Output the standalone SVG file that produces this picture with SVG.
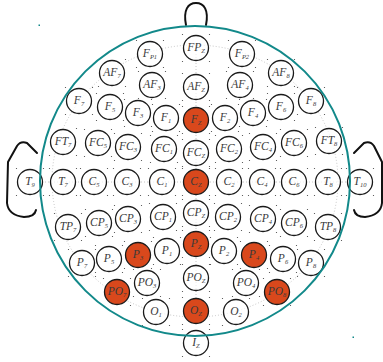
<svg xmlns="http://www.w3.org/2000/svg" xmlns:xlink="http://www.w3.org/1999/xlink" width="383" height="362" viewBox="0 0 383 362">
<style>
.e circle{fill:#fff;fill-opacity:0.7;stroke:#1a1a1a;stroke-width:1.3}
.e.on circle{fill:#D9481C;fill-opacity:1}
text{font-family:"Liberation Serif","Times New Roman",serif;font-style:italic;font-size:11.5px;fill:#3a3a3a;text-anchor:middle}
.s{font-size:6.5px}
.guide{fill:none;stroke:#b8b8b8;stroke-width:0.8;stroke-dasharray:1 2}
.outline{fill:none;stroke:#111;stroke-width:2;stroke-linejoin:round;stroke-linecap:round}
.gd{fill:#444}
</style>
<defs>
<g id="g"><circle class="gd" cx="-13.5" cy="-13.5" r="0.6"/><circle class="gd" cx="13.5" cy="-13.5" r="0.6"/><circle class="gd" cx="-13.5" cy="13.5" r="0.6"/><circle class="gd" cx="13.5" cy="13.5" r="0.6"/></g>
</defs>
<rect width="383" height="362" fill="#fff"/>
<g id="head-outline">
<path class="outline" d="M186,25 C183,10 188,3 196,3 C204,3 209,10 206,25"/>
<path class="outline" d="M37,153 L27,143 C22,141 19,143 17,146 L8,162 L7,203 C8,212 14,216 24,217 C30,217 35,215 36,210"/>
<path class="outline" d="M354,153 L364,143 C369,141 372,143 374,146 L382,162 L382,203 C381,212 375,216 365,217 C359,217 355,215 354,210"/>
</g>
<g id="connectors">
<ellipse class="guide" cx="195" cy="181" rx="143" ry="136"/>
<line class="guide" x1="42" y1="182" x2="348" y2="182"/>
<line class="guide" x1="196" y1="45" x2="196" y2="318"/>
</g>
<g id="grid-dots">
<use xlink:href="#g" x="150" y="54"/><use xlink:href="#g" x="196" y="48"/><use xlink:href="#g" x="242" y="54"/>
<use xlink:href="#g" x="112" y="73"/><use xlink:href="#g" x="152" y="85"/><use xlink:href="#g" x="196" y="87"/><use xlink:href="#g" x="240" y="85"/><use xlink:href="#g" x="281" y="73"/>
<use xlink:href="#g" x="79" y="101"/><use xlink:href="#g" x="110" y="107"/><use xlink:href="#g" x="138" y="113"/><use xlink:href="#g" x="166" y="118"/><use xlink:href="#g" x="196" y="120"/><use xlink:href="#g" x="225" y="118"/><use xlink:href="#g" x="253" y="113"/><use xlink:href="#g" x="281" y="107"/><use xlink:href="#g" x="311" y="101"/>
<use xlink:href="#g" x="63" y="142"/><use xlink:href="#g" x="98" y="143"/><use xlink:href="#g" x="128" y="147"/><use xlink:href="#g" x="164" y="149"/><use xlink:href="#g" x="196" y="153"/><use xlink:href="#g" x="229" y="149"/><use xlink:href="#g" x="263" y="147"/><use xlink:href="#g" x="294" y="143"/><use xlink:href="#g" x="329" y="141"/>
<use xlink:href="#g" x="30" y="182"/><use xlink:href="#g" x="63" y="182"/><use xlink:href="#g" x="94" y="182"/><use xlink:href="#g" x="127" y="182"/><use xlink:href="#g" x="162" y="182"/><use xlink:href="#g" x="196" y="182"/><use xlink:href="#g" x="229" y="182"/><use xlink:href="#g" x="262" y="182"/><use xlink:href="#g" x="294" y="182"/><use xlink:href="#g" x="328" y="182"/><use xlink:href="#g" x="360" y="182"/>
<use xlink:href="#g" x="68" y="227"/><use xlink:href="#g" x="99" y="223"/><use xlink:href="#g" x="128" y="219"/><use xlink:href="#g" x="163" y="217"/><use xlink:href="#g" x="196" y="213"/><use xlink:href="#g" x="228" y="217"/><use xlink:href="#g" x="263" y="219"/><use xlink:href="#g" x="294" y="223"/><use xlink:href="#g" x="328" y="227"/>
<use xlink:href="#g" x="82" y="263"/><use xlink:href="#g" x="109" y="259"/><use xlink:href="#g" x="138" y="255"/><use xlink:href="#g" x="167" y="251"/><use xlink:href="#g" x="196" y="244"/><use xlink:href="#g" x="224" y="251"/><use xlink:href="#g" x="254" y="255"/><use xlink:href="#g" x="283" y="259"/><use xlink:href="#g" x="311" y="263"/>
<use xlink:href="#g" x="117" y="292"/><use xlink:href="#g" x="147" y="283"/><use xlink:href="#g" x="196" y="278"/><use xlink:href="#g" x="246" y="283"/><use xlink:href="#g" x="277" y="292"/>
<use xlink:href="#g" x="156" y="312"/><use xlink:href="#g" x="196" y="311"/><use xlink:href="#g" x="236" y="312"/>
<use xlink:href="#g" x="196" y="343"/>
</g>
<g id="electrodes">
<g id="FP1" class="e"><circle cx="150" cy="54" r="12.5"/><text x="150" y="57">F<tspan class="s" dy="2">P1</tspan></text></g>
<g id="FPZ" class="e"><circle cx="196" cy="48" r="12.5"/><text x="196" y="51">FP<tspan class="s" dy="2">Z</tspan></text></g>
<g id="FP2" class="e"><circle cx="242" cy="54" r="12.5"/><text x="242" y="57">F<tspan class="s" dy="2">P2</tspan></text></g>

<g id="AF7" class="e"><circle cx="112" cy="73" r="12.5"/><text x="112" y="76">AF<tspan class="s" dy="2">7</tspan></text></g>
<g id="AF3" class="e"><circle cx="152" cy="85" r="12.5"/><text x="152" y="88">AF<tspan class="s" dy="2">3</tspan></text></g>
<g id="AFZ" class="e"><circle cx="196" cy="87" r="12.5"/><text x="196" y="90">AF<tspan class="s" dy="2">Z</tspan></text></g>
<g id="AF4" class="e"><circle cx="240" cy="85" r="12.5"/><text x="240" y="88">AF<tspan class="s" dy="2">4</tspan></text></g>
<g id="AF8" class="e"><circle cx="281" cy="73" r="12.5"/><text x="281" y="76">AF<tspan class="s" dy="2">8</tspan></text></g>

<g id="F7" class="e"><circle cx="79" cy="101" r="12.5"/><text x="79" y="104">F<tspan class="s" dy="2">7</tspan></text></g>
<g id="F5" class="e"><circle cx="110" cy="107" r="12.5"/><text x="110" y="110">F<tspan class="s" dy="2">5</tspan></text></g>
<g id="F3" class="e"><circle cx="138" cy="113" r="12.5"/><text x="138" y="116">F<tspan class="s" dy="2">3</tspan></text></g>
<g id="F1" class="e"><circle cx="166" cy="118" r="12.5"/><text x="166" y="121">F<tspan class="s" dy="2">1</tspan></text></g>
<g id="FZ" class="e on"><circle cx="196" cy="120" r="12.5"/><text x="196" y="123">F<tspan class="s" dy="2">Z</tspan></text></g>
<g id="F2" class="e"><circle cx="225" cy="118" r="12.5"/><text x="225" y="121">F<tspan class="s" dy="2">2</tspan></text></g>
<g id="F4" class="e"><circle cx="253" cy="113" r="12.5"/><text x="253" y="116">F<tspan class="s" dy="2">4</tspan></text></g>
<g id="F6" class="e"><circle cx="281" cy="107" r="12.5"/><text x="281" y="110">F<tspan class="s" dy="2">6</tspan></text></g>
<g id="F8" class="e"><circle cx="311" cy="101" r="12.5"/><text x="311" y="104">F<tspan class="s" dy="2">8</tspan></text></g>

<g id="FT7" class="e"><circle cx="63" cy="142" r="12.5"/><text x="63" y="145">FT<tspan class="s" dy="2">7</tspan></text></g>
<g id="FC5" class="e"><circle cx="98" cy="143" r="12.5"/><text x="98" y="146">FC<tspan class="s" dy="2">5</tspan></text></g>
<g id="FC3" class="e"><circle cx="128" cy="147" r="12.5"/><text x="128" y="150">FC<tspan class="s" dy="2">3</tspan></text></g>
<g id="FC1" class="e"><circle cx="164" cy="149" r="12.5"/><text x="164" y="152">FC<tspan class="s" dy="2">1</tspan></text></g>
<g id="FCZ" class="e"><circle cx="196" cy="153" r="12.5"/><text x="196" y="156">FC<tspan class="s" dy="2">Z</tspan></text></g>
<g id="FC2" class="e"><circle cx="229" cy="149" r="12.5"/><text x="229" y="152">FC<tspan class="s" dy="2">2</tspan></text></g>
<g id="FC4" class="e"><circle cx="263" cy="147" r="12.5"/><text x="263" y="150">FC<tspan class="s" dy="2">4</tspan></text></g>
<g id="FC6" class="e"><circle cx="294" cy="143" r="12.5"/><text x="294" y="146">FC<tspan class="s" dy="2">6</tspan></text></g>
<g id="FT8" class="e"><circle cx="329" cy="141" r="12.5"/><text x="329" y="144">FT<tspan class="s" dy="2">8</tspan></text></g>

<g id="T9" class="e"><circle cx="30" cy="182" r="12.5"/><text x="30" y="185">T<tspan class="s" dy="2">9</tspan></text></g>
<g id="T7" class="e"><circle cx="63" cy="182" r="12.5"/><text x="63" y="185">T<tspan class="s" dy="2">7</tspan></text></g>
<g id="C5" class="e"><circle cx="94" cy="182" r="12.5"/><text x="94" y="185">C<tspan class="s" dy="2">5</tspan></text></g>
<g id="C3" class="e"><circle cx="127" cy="182" r="12.5"/><text x="127" y="185">C<tspan class="s" dy="2">3</tspan></text></g>
<g id="C1" class="e"><circle cx="162" cy="182" r="12.5"/><text x="162" y="185">C<tspan class="s" dy="2">1</tspan></text></g>
<g id="CZ" class="e on"><circle cx="196" cy="182" r="12.5"/><text x="196" y="185">C<tspan class="s" dy="2">Z</tspan></text></g>
<g id="C2" class="e"><circle cx="229" cy="182" r="12.5"/><text x="229" y="185">C<tspan class="s" dy="2">2</tspan></text></g>
<g id="C4" class="e"><circle cx="262" cy="182" r="12.5"/><text x="262" y="185">C<tspan class="s" dy="2">4</tspan></text></g>
<g id="C6" class="e"><circle cx="294" cy="182" r="12.5"/><text x="294" y="185">C<tspan class="s" dy="2">6</tspan></text></g>
<g id="T8" class="e"><circle cx="328" cy="182" r="12.5"/><text x="328" y="185">T<tspan class="s" dy="2">8</tspan></text></g>
<g id="T10" class="e"><circle cx="360" cy="182" r="12.5"/><text x="360" y="185">T<tspan class="s" dy="2">10</tspan></text></g>

<g id="TP7" class="e"><circle cx="68" cy="227" r="12.5"/><text x="68" y="230">TP<tspan class="s" dy="2">7</tspan></text></g>
<g id="CP5" class="e"><circle cx="99" cy="223" r="12.5"/><text x="99" y="226">CP<tspan class="s" dy="2">5</tspan></text></g>
<g id="CP3" class="e"><circle cx="128" cy="219" r="12.5"/><text x="128" y="222">CP<tspan class="s" dy="2">3</tspan></text></g>
<g id="CP1" class="e"><circle cx="163" cy="217" r="12.5"/><text x="163" y="220">CP<tspan class="s" dy="2">1</tspan></text></g>
<g id="CPZ" class="e"><circle cx="196" cy="213" r="12.5"/><text x="196" y="216">CP<tspan class="s" dy="2">Z</tspan></text></g>
<g id="CP2" class="e"><circle cx="228" cy="217" r="12.5"/><text x="228" y="220">CP<tspan class="s" dy="2">2</tspan></text></g>
<g id="CP4" class="e"><circle cx="263" cy="219" r="12.5"/><text x="263" y="222">CP<tspan class="s" dy="2">4</tspan></text></g>
<g id="CP6" class="e"><circle cx="294" cy="223" r="12.5"/><text x="294" y="226">CP<tspan class="s" dy="2">6</tspan></text></g>
<g id="TP8" class="e"><circle cx="328" cy="227" r="12.5"/><text x="328" y="230">TP<tspan class="s" dy="2">8</tspan></text></g>

<g id="P7" class="e"><circle cx="82" cy="263" r="12.5"/><text x="82" y="266">P<tspan class="s" dy="2">7</tspan></text></g>
<g id="P5" class="e"><circle cx="109" cy="259" r="12.5" stroke-width="1.6"/><text x="109" y="262" fill="#111">P<tspan class="s" dy="2">5</tspan></text></g>
<g id="P3" class="e on"><circle cx="138" cy="255" r="12.5"/><text x="138" y="258">P<tspan class="s" dy="2">3</tspan></text></g>
<g id="P1" class="e"><circle cx="167" cy="251" r="12.5"/><text x="167" y="254">P<tspan class="s" dy="2">1</tspan></text></g>
<g id="PZ" class="e on"><circle cx="196" cy="244" r="12.5"/><text x="196" y="247">P<tspan class="s" dy="2">Z</tspan></text></g>
<g id="P2" class="e"><circle cx="224" cy="251" r="12.5"/><text x="224" y="254">P<tspan class="s" dy="2">2</tspan></text></g>
<g id="P4" class="e on"><circle cx="254" cy="255" r="12.5"/><text x="254" y="258">P<tspan class="s" dy="2">4</tspan></text></g>
<g id="P6" class="e"><circle cx="283" cy="259" r="12.5"/><text x="283" y="262">P<tspan class="s" dy="2">6</tspan></text></g>
<g id="P8" class="e"><circle cx="311" cy="263" r="12.5"/><text x="311" y="266">P<tspan class="s" dy="2">8</tspan></text></g>

<g id="PO7" class="e on"><circle cx="117" cy="292" r="12.5"/><text x="117" y="295">PO<tspan class="s" dy="2">7</tspan></text></g>
<g id="PO3" class="e"><circle cx="147" cy="283" r="12.5"/><text x="147" y="286">PO<tspan class="s" dy="2">3</tspan></text></g>
<g id="POZ" class="e"><circle cx="196" cy="278" r="12.5"/><text x="196" y="281">PO<tspan class="s" dy="2">Z</tspan></text></g>
<g id="PO4" class="e"><circle cx="246" cy="283" r="12.5"/><text x="246" y="286">PO<tspan class="s" dy="2">4</tspan></text></g>
<g id="PO8" class="e on"><circle cx="277" cy="292" r="12.5"/><text x="277" y="295">PO<tspan class="s" dy="2">8</tspan></text></g>

<g id="O1" class="e"><circle cx="156" cy="312" r="12.5"/><text x="156" y="315">O<tspan class="s" dy="2">1</tspan></text></g>
<g id="OZ" class="e on"><circle cx="196" cy="311" r="12.5"/><text x="196" y="314">O<tspan class="s" dy="2">Z</tspan></text></g>
<g id="O2" class="e"><circle cx="236" cy="312" r="12.5"/><text x="236" y="315">O<tspan class="s" dy="2">2</tspan></text></g>

<g id="IZ" class="e"><circle cx="196" cy="343" r="12.5"/><text x="196" y="346">I<tspan class="s" dy="2">Z</tspan></text></g>
</g>
<g id="head">
<circle cx="195" cy="181" r="155" fill="none" stroke="#12898a" stroke-width="2"/>
<rect x="38.5" y="24.5" width="1.5" height="1.5" fill="#12898a"/>
<rect x="352.5" y="336.5" width="1.5" height="1.5" fill="#12898a"/>
</g>
</svg>
